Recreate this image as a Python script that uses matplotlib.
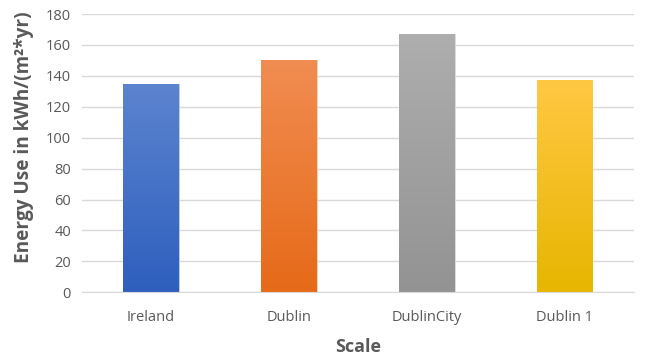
import matplotlib
matplotlib.use("Agg")
import matplotlib.pyplot as plt
import matplotlib.colors as mcolors
import numpy as np

# Chart data
categories = ["Ireland", "Dublin", "DublinCity", "Dublin 1"]
values = [134.7, 150.5, 166.9, 137.1]
top_colors = ["#5c84cf", "#f18d52", "#aeaeae", "#ffc843"]
bottom_colors = ["#2e5fbe", "#e66a18", "#939393", "#e6b600"]
yticks = [0, 20, 40, 60, 80, 100, 120, 140, 160, 180]

plt.rcParams['font.family'] = ['Open Sans', 'DejaVu Sans']
text_color = '#595959'

fig = plt.figure(figsize=(6.64, 3.56), dpi=100)
ax = fig.add_axes([82 / 664, 1 - 292.3 / 356, (633.5 - 82) / 664, 278.3 / 356])

x = np.arange(len(categories))
bar_width = 0.405
bars = ax.bar(x, values, width=bar_width, color='none', zorder=3)

# vertical gradient fill for each bar
for bar, c_top, c_bot in zip(bars, top_colors, bottom_colors):
    cmap = mcolors.LinearSegmentedColormap.from_list('g', [c_bot, c_top])
    x0, y0 = bar.get_x(), bar.get_y()
    w, h = bar.get_width(), bar.get_height()
    grad = np.linspace(0, 1, 256).reshape(-1, 1)
    im = ax.imshow(grad, cmap=cmap, aspect='auto', origin='lower',
                   extent=(x0, x0 + w, y0, y0 + h), zorder=3)
    im.set_clip_path(bar)
    bar.set_edgecolor(mcolors.to_hex(np.array(mcolors.to_rgb(c_top)) * 0.5 + 0.5))
    bar.set_linewidth(0.6)

ax.set_xlim(-0.5, len(categories) - 0.5)
ax.set_ylim(0, 180)
ax.set_yticks(yticks)
ax.set_xticks(x)
ax.set_xticklabels(categories)
ax.yaxis.grid(True, color='#d9d9d9', linewidth=1, zorder=0)
ax.set_axisbelow(True)

for side in ['top', 'right', 'left']:
    ax.spines[side].set_visible(False)
ax.spines['bottom'].set_color('#d9d9d9')
ax.spines['bottom'].set_zorder(4)

ax.tick_params(axis='both', length=0, colors=text_color, labelsize=10.5)
ax.tick_params(axis='x', pad=13)
ax.tick_params(axis='y', pad=8)

ax.set_xlabel("Scale", fontsize=13, fontweight='bold', color=text_color, labelpad=9)
ax.set_ylabel("Energy Use in kWh/(m²*yr)", fontsize=13.7, fontweight='bold',
              color=text_color)
ax.yaxis.set_label_coords(-0.087, 0.556)

fig.savefig("out.png", dpi=100)
